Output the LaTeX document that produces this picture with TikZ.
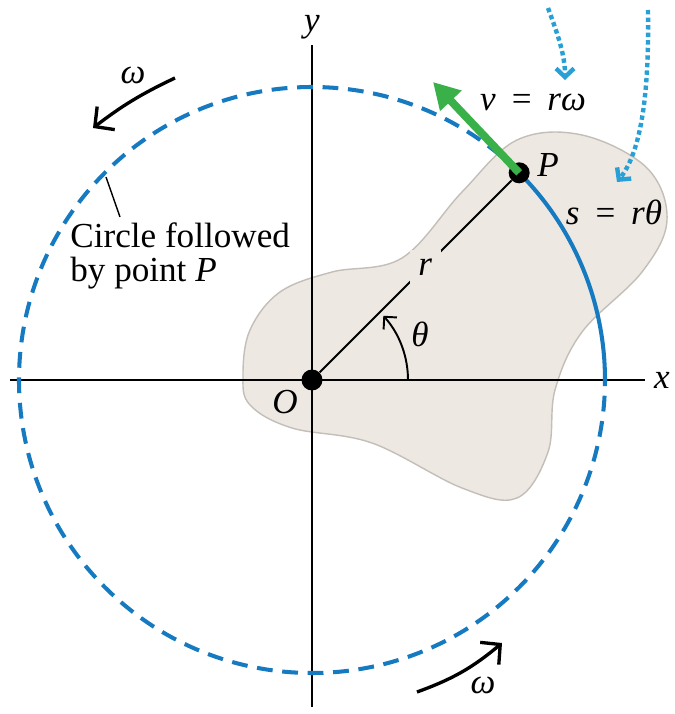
\documentclass[tikz,border=0pt]{standalone}
\usepackage{fontspec}
\setmainfont{Liberation Serif}
\usepackage{tikz}
\usetikzlibrary{positioning,arrows.meta,calc}
\definecolor{pathBlue}{RGB}{22,122,192}
\definecolor{hintBlue}{RGB}{40,160,214}
\definecolor{velGreen}{RGB}{58,176,73}
\definecolor{bodyFill}{RGB}{238,232,226}
\definecolor{bodyEdge}{RGB}{196,190,184}

\begin{document}
\begin{tikzpicture}[
        x=0.02cm, y=0.02cm,
        font=\fontsize{20}{24}\selectfont,
        dot/.style={circle, fill=black, inner sep=0pt, minimum size=0.42cm},
        lbl/.style={inner sep=1pt, font=\fontsize{20}{24}\selectfont\itshape},
        axis/.style={line width=1.1pt},
        track/.style={pathBlue, line width=2.3pt},
        spin/.style={line width=1.9pt, -{Straight Barb[length=2.8mm,width=5.8mm]}},
        hint/.style={hintBlue, line width=2.5pt, dash pattern=on 2.5pt off 1.8pt,
                     -{Straight Barb[length=1.7mm,width=3.6mm]}}
    ]
    \useasboundingbox (-312,-334) rectangle (363,380);

    % rigid body
    \filldraw[fill=bodyFill, draw=bodyEdge, line width=0.8pt]
        plot[smooth cycle, tension=0.6] coordinates {
            (-69,5) (-62,50) (-32,88) (20,108) (90,122) (150,188) (205,240)
            (270,245) (335,212) (355,160) (330,108) (270,48) (243,-10)
            (236,-72) (205,-118) (150,-108) (60,-63) (-20,-48) (-62,-25)};

    % axes
    \coordinate (xl) at (-302,0);
    \coordinate (xr) at (333,0);
    \coordinate (yb) at (0,-327);
    \coordinate (yt) at (0,335);
    \draw[axis] (xl) -- (xr);
    \draw[axis] (yb) -- (yt);
    \node[lbl, right=4pt of xr] (xlab) {x};
    \node[lbl, above=2pt of yt] (ylab) {y};

    % circle followed by P
    \draw[track, dash pattern=on 9pt off 5.5pt] (45:293) arc (45:360:293);
    \draw[track] (0:293) arc (0:45:293);

    \node[dot] (O) at (0,0) {};
    \node[dot] (P) at (45:293) {};

    % radius and angle
    \draw[line width=1.1pt] (O) -- node[pos=0.55, lbl, fill=bodyFill, inner sep=5pt] (rlab) {r} (P);
    \draw[line width=1.1pt, -{Straight Barb[length=1.8mm,width=3.6mm]}] (96,0) arc (0:42:96);
    \node[lbl] (thlab) at (108,46) {θ};
    \node[lbl] (Olab) at (-27,-22) {O};
    \node[lbl] (Plab) at (236,215) {P};
    \node[lbl] (slab) at (302,168) {s\hspace{0.4em}=\hspace{0.4em}rθ};

    % velocity
    \coordinate (vtip) at (121,298);
    \draw[velGreen, line width=4.5pt, -{Triangle[length=5.2mm,width=5.6mm]}] (P.center) -- (vtip);
    \node[lbl] (vlab) at (221,278) {v\hspace{0.4em}=\hspace{0.4em}rω};

    % pointers to the labels
    \coordinate (h1s) at (236,372);
    \coordinate (h1e) at (253,300);
    \coordinate (h2s) at (336,370);
    \coordinate (h2e) at (305,198);
    \draw[hint] (h1s) .. controls (246,345) and (253,325) .. (h1e);
    \draw[hint] (h2s) .. controls (337,300) and (332,232) .. (h2e);

    % sense of rotation
    \coordinate (w1s) at (-137,302);
    \coordinate (w1e) at (-219,252);
    \coordinate (w2s) at (105,-312);
    \coordinate (w2e) at (190,-263);
    \draw[spin] (w1s) to[bend right=6] (w1e);
    \draw[spin] (w2s) to[bend right=10] (w2e);
    \node[lbl] (w1lab) at (-179,305) {ω};
    \node[lbl] (w2lab) at (171,-305) {ω};

    % note on the circle
    \node[align=left, anchor=north west, inner sep=0pt, font=\fontsize{20}{19.5}\selectfont]
        (note) at (-242,158) {Circle followed\\by point \textit{P}};
    \coordinate (tick) at (-206,203);
    \coordinate (tickend) at (-192,163);
    \draw[line width=0.8pt] (tick) -- (tickend);
\end{tikzpicture}
\end{document}
